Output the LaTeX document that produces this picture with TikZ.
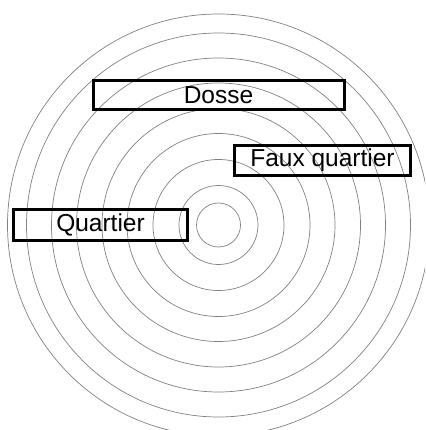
\documentclass[tikz,border=0pt]{standalone}
\usepackage{fontspec}
\setmainfont{Liberation Sans}
\begin{document}
\begin{tikzpicture}[x=1pt,y=-1pt,
  ring/.style={draw=black!50,line width=0.7pt},
  label box/.style={draw=black,line width=3pt,rectangle,inner sep=0pt,
    font=\fontsize{24.5}{28}\selectfont,text=black,anchor=center}]
\useasboundingbox (0,0) rectangle (425,430);
\clip (0,0) rectangle (425,430);
\coordinate (c) at (218.5,225);
\foreach \r in {22,39.5,65.5,91.5,116.5,142,167,192,211}
  \draw[ring] (c) circle[radius=\r];
\node[label box,minimum width=251pt,minimum height=29pt] (dosse) at (218.5,95) {Dosse};
\node[label box,minimum width=176pt,minimum height=30pt] (faux) at (322.5,160.5) {Faux quartier};
\node[label box,minimum width=174pt,minimum height=31pt] (quartier) at (100.5,225) {Quartier};
\end{tikzpicture}
\end{document}
